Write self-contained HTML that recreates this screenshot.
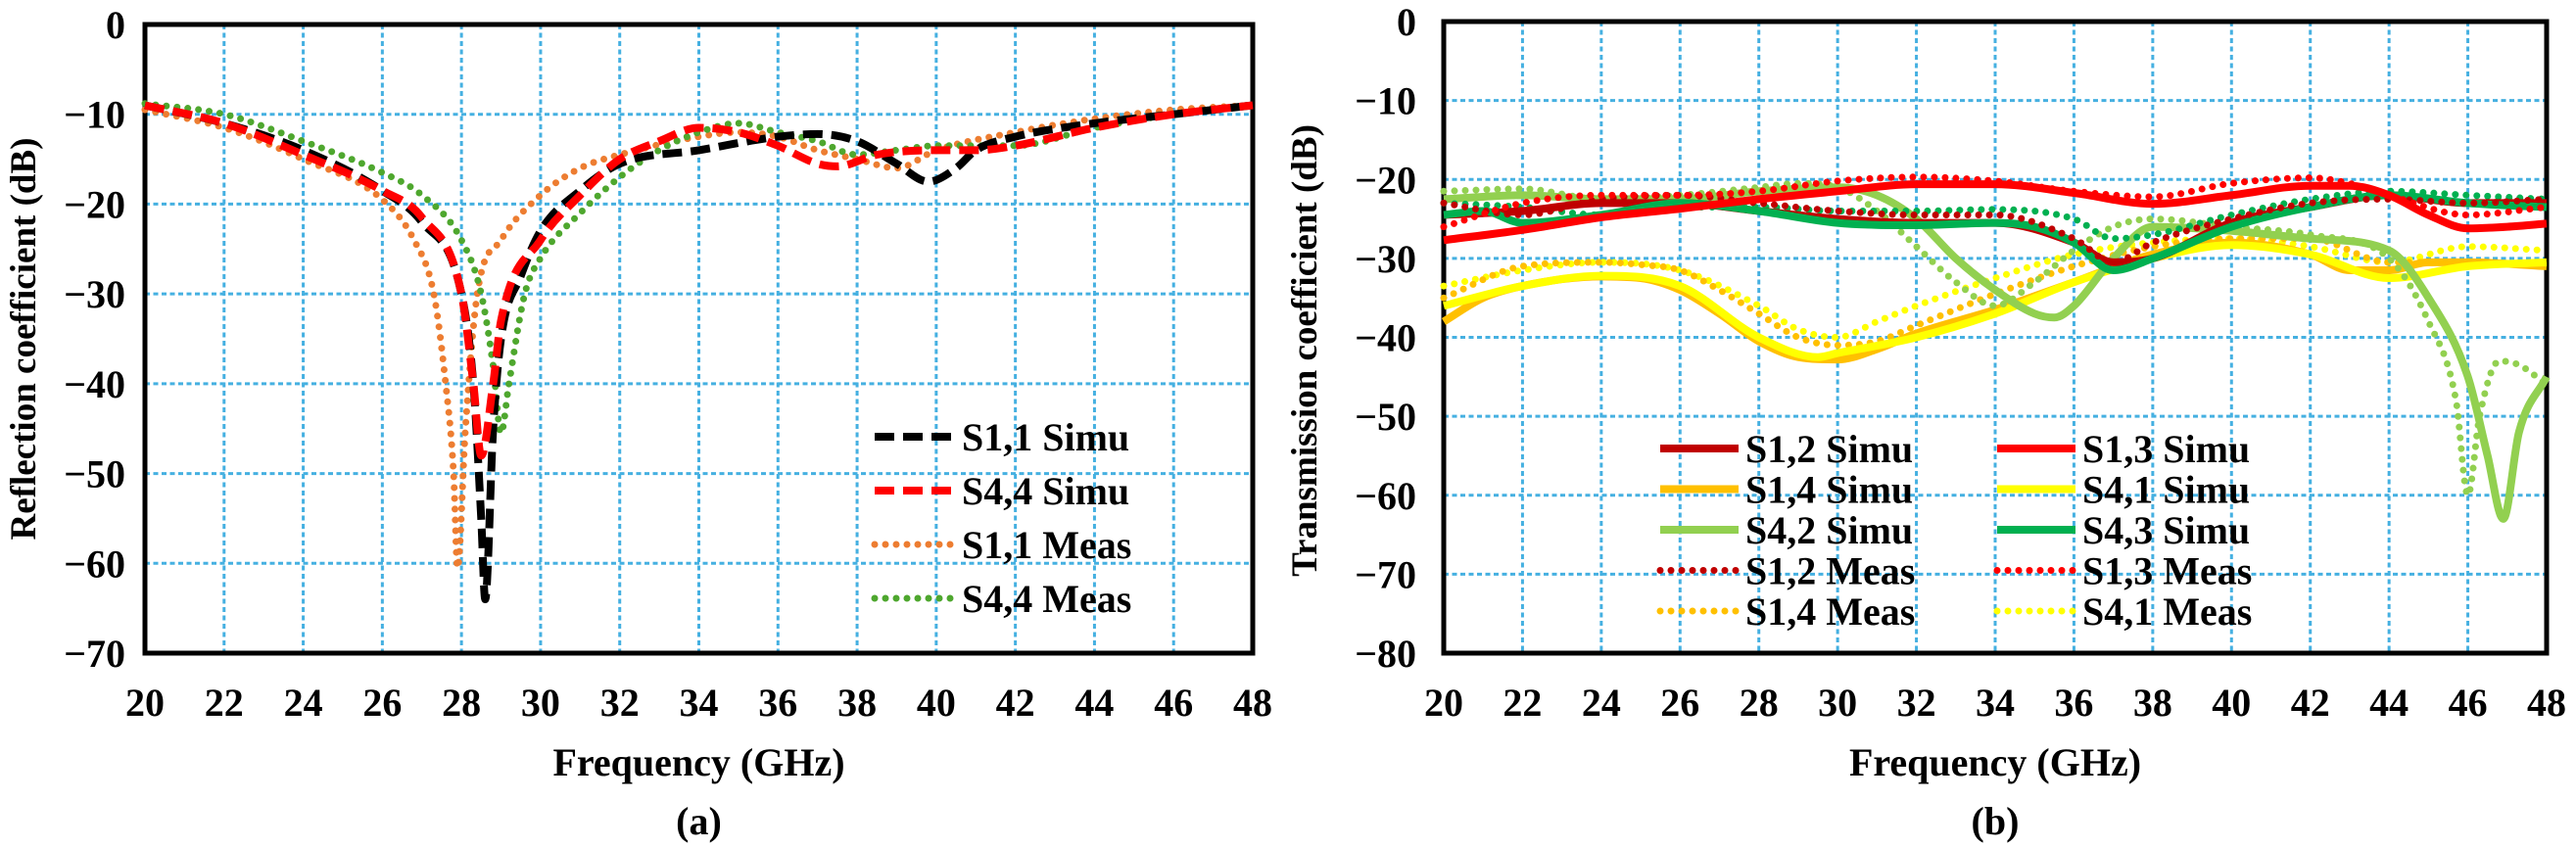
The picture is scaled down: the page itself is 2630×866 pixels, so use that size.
<!DOCTYPE html>
<html><head><meta charset="utf-8"><style>
html,body{margin:0;padding:0;background:#fff;}
svg{display:block;}
text{font-family:"Liberation Serif",serif;font-weight:bold;fill:#000;}
</style></head><body>
<svg id="fig" width="2630" height="866" viewBox="0 0 2630 866" xmlns="http://www.w3.org/2000/svg"></svg>
<script>
// ---------- data: chart (a) reflection ----------
const aS11SimF=[20,22,24,26,27,28,28.3,28.5,28.6,28.8,29,29.5,30,31,32,34,36,37,38,39,39.8,40.5,41,42,44,46,48];
const aS11SimV=[-9,-11,-14,-18.5,-22,-30,-40,-55,-64,-45,-35,-28,-23,-18.5,-15.5,-14,-12.5,-12.2,-13,-15.5,-17.5,-16,-14,-12.5,-11,-10,-9];
const aS44SimF=[20,22,24,26,27,28,28.3,28.5,28.8,29,30,31,32,33,34,35,36,37,37.5,38.5,40,41,42,44,46,48];
const aS44SimV=[-9,-11,-14.5,-18.5,-21.5,-30,-40,-48,-40,-33,-24,-19,-15,-13,-11.5,-12,-13.5,-15.5,-15.8,-14.5,-14,-14,-13.5,-11.5,-10,-9];
const aS11MeasF=[20,22,24,26,26.8,27.3,27.6,27.8,27.9,28.1,28.4,29,30,31,32,34,35,36,37,38,39,40,42,44,46,48];
const aS11MeasV=[-9.5,-11.5,-15,-19.5,-24,-30,-40,-50,-60.5,-45,-30,-24,-19,-16,-14.5,-12.5,-12,-12.5,-14,-15,-16,-14,-12,-10.5,-9.5,-9];
const aS44MeasF=[20,22,24,26,27,28,28.5,28.8,29,29.2,29.6,30,31,32,33,34,35,36,37,38,39,40,42,44,46,48];
const aS44MeasV=[-8.8,-10,-13,-16.5,-19,-24,-30,-38,-45.5,-40,-30,-26,-21,-17,-14,-12,-11,-12,-13,-14.5,-14,-13.5,-13.5,-11.5,-10,-9];
const aXTicks=[20,22,24,26,28,30,32,34,36,38,40,42,44,46,48];
const aYTicks=[0,-10,-20,-30,-40,-50,-60,-70];
const aLegend=["S1,1 Simu","S4,4 Simu","S1,1 Meas","S4,4 Meas"];

// ---------- data: chart (b) transmission ----------
const bS12SimF=[20,22,24,26,28,30,32,34,36,37,38,40,42,44,46,48];
const bS12SimV=[-24.5,-24,-23,-23,-24,-25,-25.5,-25.5,-28,-30.5,-30,-25.5,-23.5,-22,-23,-23];
const bS13SimF=[20,22,24,26,28,30,32,34,36,38,40,42,43,44,45,46,47,48];
const bS13SimV=[-27.7,-26.4,-24.8,-23.7,-22.5,-21.5,-20.6,-20.6,-21.7,-23.1,-22,-20.8,-20.8,-22,-24.5,-26.2,-26,-25.6];
const bS14SimF=[20,21,22,24,25,26,27,28,29,30,31,32,34,36,38,40,42,43,44,45,46,48];
const bS14SimV=[-38,-35,-33.5,-32.3,-32.5,-34,-37,-40.5,-42.5,-42.8,-41.5,-39.5,-36.5,-33,-29.5,-28,-29.5,-31.5,-31.5,-30.5,-30.5,-31];
const bS41SimF=[20,22,24,26,28,29.5,30,32,34,36,38,40,42,44,46,48];
const bS41SimV=[-36,-33.5,-32.2,-33.5,-40,-42.5,-42,-40,-37,-33,-30,-28.3,-29.5,-32.5,-31,-30.5];
const bS42SimF=[20,22,24,26,28,30,31,32,33,34,35,35.5,36,37,38,40,42,44,45,46,46.5,46.9,47.3,48];
const bS42SimV=[-22.5,-22,-22.5,-22.5,-21.5,-21,-22,-25,-30,-34,-37,-37.5,-36,-30,-26,-26.5,-27.5,-29,-35,-45,-55,-63,-52,-45];
const bS43SimF=[20,21,22,24,26,28,30,32,34,35,36,37,38,40,42,44,46,48];
const bS43SimV=[-24.5,-24,-25.5,-24.5,-23,-24,-25.5,-25.8,-25.5,-26,-28,-31.5,-30,-26,-23.5,-22,-23,-23.5];
const bS12MeasF=[20,22,24,26,28,30,32,34,36,37,38,40,42,44,46,48];
const bS12MeasV=[-23,-24.5,-22.5,-22,-23,-24,-24.5,-24.5,-27.5,-30.5,-28,-25,-23,-22.5,-23,-22.5];
const bS13MeasF=[20,22,24,26,28,30,32,34,36,38,40,42,43,44,46,48];
const bS13MeasV=[-26,-23,-22,-22,-21.5,-20.2,-19.7,-20.2,-21.5,-22.2,-20.5,-19.8,-20.5,-22,-24.5,-23.5];
const bS14MeasF=[20,22,24,25,26,27,28,29,30,31,32,34,36,38,40,42,44,46,48];
const bS14MeasV=[-35,-31,-30.5,-30.8,-31.5,-34,-37,-40,-41,-40.5,-38.5,-34.5,-31,-28.5,-27.5,-27.5,-30.5,-30.5,-31];
const bS41MeasF=[20,22,24,26,28,29,30,31,32,34,36,38,40,42,44,46,48];
const bS41MeasV=[-33.5,-31.5,-30.5,-31.5,-36,-39,-40,-38,-36,-32.5,-29.5,-28,-27.5,-28.5,-30.5,-28.5,-29];
const bS42MeasF=[20,22,24,26,28,29,30,31,32,33,34,35,36,37,38,40,42,44,45,45.7,46,46.3,46.8,47.3,48];
const bS42MeasV=[-21.5,-21.2,-22.5,-22,-21,-20.5,-21,-24,-28.5,-33,-36,-33,-29,-26,-25,-26,-27,-30,-38,-48,-60,-50,-43,-43.5,-46];
const bS43MeasF=[20,22,24,26,28,30,32,34,36,37,38,40,42,44,46,48];
const bS43MeasV=[-23,-23.5,-24.5,-23.5,-23.5,-24,-24,-23.8,-25,-27.5,-27,-24.5,-22.5,-21.5,-22,-22.5];
const bXTicks=[20,22,24,26,28,30,32,34,36,38,40,42,44,46,48];
const bYTicks=[0,-10,-20,-30,-40,-50,-60,-70,-80];
const bLegend=["S1,2 Simu","S1,3 Simu","S1,4 Simu","S4,1 Simu","S4,2 Simu","S4,3 Simu","S1,2 Meas","S1,3 Meas","S1,4 Meas","S4,1 Meas"];

const NS="http://www.w3.org/2000/svg";
const svg=document.getElementById('fig');
function mk(tag,attrs,parent){const e=document.createElementNS(NS,tag);for(const k in attrs)e.setAttribute(k,attrs[k]);(parent||svg).appendChild(e);return e;}

function monoPath(xs,ys){
  const n=xs.length;if(n<2)return '';
  const d=[],m=new Array(n);
  for(let i=0;i<n-1;i++)d.push((ys[i+1]-ys[i])/(xs[i+1]-xs[i]));
  m[0]=d[0];m[n-1]=d[n-2];
  for(let i=1;i<n-1;i++){m[i]=(d[i-1]*d[i]<=0)?0:(d[i-1]+d[i])/2;}
  for(let i=0;i<n-1;i++){
    if(d[i]===0){m[i]=0;m[i+1]=0;continue;}
    const a=m[i]/d[i],b=m[i+1]/d[i],s=a*a+b*b;
    if(s>9){const t=3/Math.sqrt(s);m[i]=t*a*d[i];m[i+1]=t*b*d[i];}
  }
  let p='M'+xs[0].toFixed(1)+','+ys[0].toFixed(1);
  for(let i=0;i<n-1;i++){
    const h=(xs[i+1]-xs[i])/3;
    p+='C'+(xs[i]+h).toFixed(1)+','+(ys[i]+m[i]*h).toFixed(1)+' '+(xs[i+1]-h).toFixed(1)+','+(ys[i+1]-m[i+1]*h).toFixed(1)+' '+xs[i+1].toFixed(1)+','+ys[i+1].toFixed(1);
  }
  return p;
}

function chart(cfg){
  const g=mk('g',{});
  
  
  const X=f=>cfg.x0+(f-20)/28*(cfg.x1-cfg.x0);
  const Y=v=>cfg.y0+(v/cfg.ymin)*(cfg.y1-cfg.y0);
  const grid=mk('g',{},g);
  
  
  cfg.xt.forEach(f=>{if(f>20&&f<48){const l=mk('line',{x1:X(f),x2:X(f),y1:cfg.y0,y2:cfg.y1,stroke:'#45B0E1','stroke-width':3,'stroke-dasharray':'5 3.5'},grid);
    
    }});
  cfg.yt.forEach(v=>{if(v<0&&v>cfg.ymin){const l=mk('line',{x1:cfg.x0,x2:cfg.x1,y1:Y(v),y2:Y(v),stroke:'#45B0E1','stroke-width':3,'stroke-dasharray':'5 3.5'},grid);
    
    }});
  const fr=mk('rect',{x:cfg.x0,y:cfg.y0,width:cfg.x1-cfg.x0,height:cfg.y1-cfg.y0,fill:'none',stroke:'#000','stroke-width':5},g);
  
  
  cfg.series.forEach(s=>{
    const p=mk('path',{d:monoPath(s.f.map(X),s.v.map(Y)),fill:'none',stroke:s.c,'stroke-width':s.w,'stroke-dasharray':s.dash||'none','stroke-linecap':s.cap||'butt','stroke-linejoin':'round'},g);
    
    
  });
  cfg.xt.forEach(f=>{const t=mk('text',{x:X(f),y:731,'font-size':40,'text-anchor':'middle'},g);t.textContent=f;
    
    });
  cfg.yt.forEach(v=>{const t=mk('text',{x:cfg.ylx,y:Y(v)+14,'font-size':40,'text-anchor':'end'},g);t.textContent=v===0?'0':'\u2212'+(-v);
    
    });
  const xt=mk('text',{x:(cfg.x0+cfg.x1)/2,y:792,'font-size':40,'text-anchor':'middle'},g);xt.textContent='Frequency (GHz)';
  
  
  const yt=mk('text',{x:0,y:0,'font-size':37,'text-anchor':'middle',transform:'translate('+cfg.ytx+','+cfg.yty+') rotate(-90)'},g);yt.textContent=cfg.ytitle;
  
  
  const cap=mk('text',{x:(cfg.x0+cfg.x1)/2,y:852,'font-size':40,'text-anchor':'middle'},g);cap.textContent=cfg.cap;
  
  
  const lg=mk('g',{},g);
  
  
  cfg.legend.forEach((name,i)=>{
    const s=cfg.series.find(q=>q.label===name);
    const col=cfg.legCols>1?i%2:0,row=cfg.legCols>1?Math.floor(i/2):i;
    const lx=cfg.legX+col*cfg.legDX,ly=cfg.legY+row*cfg.legDY;
    const e=mk('g',{},lg);
    
    
    mk('line',{x1:lx,x2:lx+cfg.legLen,y1:ly,y2:ly,stroke:s.c,'stroke-width':s.w,'stroke-dasharray':s.dash||'none','stroke-linecap':s.cap||'butt'},e);
    const t=mk('text',{x:lx+cfg.legLen+7,y:ly+14,'font-size':40},e);t.textContent=name;
  });
}

const dashed='20 9',dotted='0 11';
chart({name:'reflection-chart',x0:148,x1:1279,y0:25,y1:667,ymin:-70,xt:aXTicks,yt:aYTicks,ylx:128,
  ytitle:'Reflection coefficient (dB)',ytx:36,yty:346,cap:'(a)',
  legend:aLegend,legCols:1,legX:893,legY:446,legDX:0,legDY:55,legLen:82,
  series:[
    {id:'s11-meas-line',label:'S1,1 Meas',f:aS11MeasF,v:aS11MeasV,c:'#ED7D31',w:7,dash:dotted,cap:'round'},
    {id:'s44-meas-line',label:'S4,4 Meas',f:aS44MeasF,v:aS44MeasV,c:'#4EA72E',w:7,dash:dotted,cap:'round'},
    {id:'s11-simu-line',label:'S1,1 Simu',f:aS11SimF,v:aS11SimV,c:'#000000',w:8,dash:dashed},
    {id:'s44-simu-line',label:'S4,4 Simu',f:aS44SimF,v:aS44SimV,c:'#FF0000',w:8,dash:dashed},
  ]});
chart({name:'transmission-chart',x0:1474,x1:2600,y0:22,y1:667,ymin:-80,xt:bXTicks,yt:bYTicks,ylx:1446,
  ytitle:'Transmission coefficient (dB)',ytx:1344,yty:358,cap:'(b)',
  legend:bLegend,legCols:2,legX:1695,legY:458,legDX:344,legDY:41.5,legLen:80,
  series:[
    {id:'s41-meas-line',label:'S4,1 Meas',f:bS41MeasF,v:bS41MeasV,c:'#FFFF00',w:7,dash:dotted,cap:'round'},
    {id:'s14-meas-line',label:'S1,4 Meas',f:bS14MeasF,v:bS14MeasV,c:'#FFC000',w:7,dash:dotted,cap:'round'},
    {id:'s14-simu-line',label:'S1,4 Simu',f:bS14SimF,v:bS14SimV,c:'#FFC000',w:8},
    {id:'s41-simu-line',label:'S4,1 Simu',f:bS41SimF,v:bS41SimV,c:'#FFFF00',w:8},
    {id:'s42-meas-line',label:'S4,2 Meas',f:bS42MeasF,v:bS42MeasV,c:'#92D050',w:7,dash:dotted,cap:'round'},
    {id:'s42-simu-line',label:'S4,2 Simu',f:bS42SimF,v:bS42SimV,c:'#92D050',w:8},
    {id:'s43-meas-line',label:'S4,3 Meas',f:bS43MeasF,v:bS43MeasV,c:'#00B050',w:7,dash:dotted,cap:'round'},
    {id:'s12-simu-line',label:'S1,2 Simu',f:bS12SimF,v:bS12SimV,c:'#C00000',w:8},
    {id:'s43-simu-line',label:'S4,3 Simu',f:bS43SimF,v:bS43SimV,c:'#00B050',w:8},
    {id:'s12-meas-line',label:'S1,2 Meas',f:bS12MeasF,v:bS12MeasV,c:'#C00000',w:7,dash:dotted,cap:'round'},
    {id:'s13-simu-line',label:'S1,3 Simu',f:bS13SimF,v:bS13SimV,c:'#FF0000',w:8},
    {id:'s13-meas-line',label:'S1,3 Meas',f:bS13MeasF,v:bS13MeasV,c:'#FF0000',w:7,dash:dotted,cap:'round'},
  ]});
</script>
</body></html>
